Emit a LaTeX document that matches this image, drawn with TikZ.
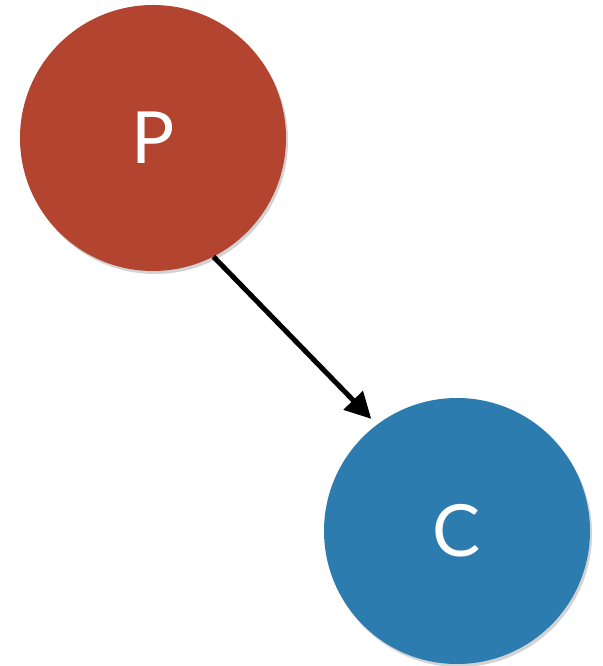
\documentclass[tikz,border=0pt]{standalone}
\usepackage{fontspec}
\setmainfont{Lato}
\usetikzlibrary{arrows.meta,shadows}

\definecolor{parentred}{RGB}{178,68,48}
\definecolor{childblue}{RGB}{45,124,176}

\tikzset{
  ball/.style={circle, minimum size=266pt, inner sep=0pt, text=white,
    font=\fontsize{72}{84}\selectfont,
    drop shadow={opacity=0.35, shadow xshift=2pt, shadow yshift=-3pt}},
}

\begin{document}
\begin{tikzpicture}[x=1pt, y=1pt]
    \useasboundingbox (0,0) rectangle (602,666);
    % Nodes
    \node[ball, fill=parentred] (P) at (153,528) {P};
    \node[ball, fill=childblue] (C) at (457,135) {C};
    \draw[line width=5pt, -{Triangle[length=26pt,width=26pt]}, shorten >=8pt]
      (P.-63) -- (C.127);
\end{tikzpicture}
\end{document}
